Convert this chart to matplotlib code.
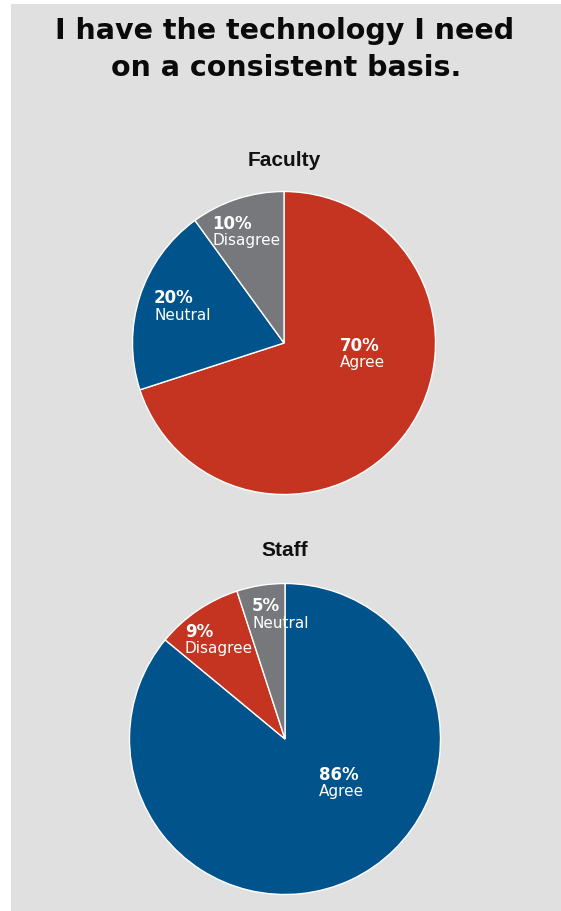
import matplotlib.pyplot as plt
from matplotlib.patches import Rectangle

# -----------------------------
# Data
# -----------------------------
title_lines = ["I have the technology I need", "on a consistent basis."]

faculty_labels = ["Agree", "Neutral", "Disagree"]
faculty_values = [70, 20, 10]
faculty_colors = ["#C43420", "#00538B", "#77787C"]

staff_labels = ["Agree", "Disagree", "Neutral"]
staff_values = [86, 9, 5]
staff_colors = ["#00538B", "#C43420", "#77787C"]

# label anchor points in pixels (left edge, y of the percent line)
faculty_label_px = [(340, 346), (154, 298), (212, 224)]
staff_label_px = [(319, 775), (185, 632), (252, 606)]

W, H = 561, 912
BG = "#E0E0E0"

fig = plt.figure(figsize=(W / 100, H / 100), dpi=100)
fig.patch.set_facecolor("white")
fig.patches.append(Rectangle((11 / W, 0), 1 - 11 / W, 1 - 5 / H,
                             transform=fig.transFigure, facecolor=BG,
                             edgecolor="none", zorder=-1))


def fx(px):
    return px / W


def fy(py):
    return 1 - py / H


# title
fig.text(fx(285), fy(31), title_lines[0], ha="center", va="center",
         fontsize=20.5, fontweight="bold", family="DejaVu Sans", color="#0a0a0a")
fig.text(fx(286), fy(68), title_lines[1], ha="center", va="center",
         fontsize=20.5, fontweight="bold", family="DejaVu Sans", color="#0a0a0a")


def draw_pie(name, labels, values, colors, label_px, cx, cy, r, title_y):
    ax = fig.add_axes([fx(cx - r), fy(cy + r), 2 * r / W, 2 * r / H])
    ax.pie(values, colors=colors, startangle=90, counterclock=False,
           radius=1, wedgeprops=dict(edgecolor="white", linewidth=1.0))
    ax.set_xlim(-1, 1)
    ax.set_ylim(-1, 1)
    ax.set_aspect("equal")
    ax.axis("off")
    for lab, val, (px, py) in zip(labels, values, label_px):
        x = (px - cx) / r
        y = (cy - py) / r
        ax.text(x, y, f"{val}%", ha="left", va="center", color="white",
                fontsize=12, fontweight="bold", family="DejaVu Sans")
        ax.text(x, y - 17 / r, lab, ha="left", va="center", color="white",
                fontsize=11, family="DejaVu Sans")
    fig.text(fx(cx), fy(title_y), name, ha="center", va="center",
             fontsize=15, fontweight="bold", family="Liberation Sans",
             color="#111111")


draw_pie("Faculty", faculty_labels, faculty_values, faculty_colors,
         faculty_label_px, 284, 344, 151.5, 161)
draw_pie("Staff", staff_labels, staff_values, staff_colors,
         staff_label_px, 285, 740, 155.5, 551)

fig.savefig("out.png", dpi=100, facecolor=fig.get_facecolor())
